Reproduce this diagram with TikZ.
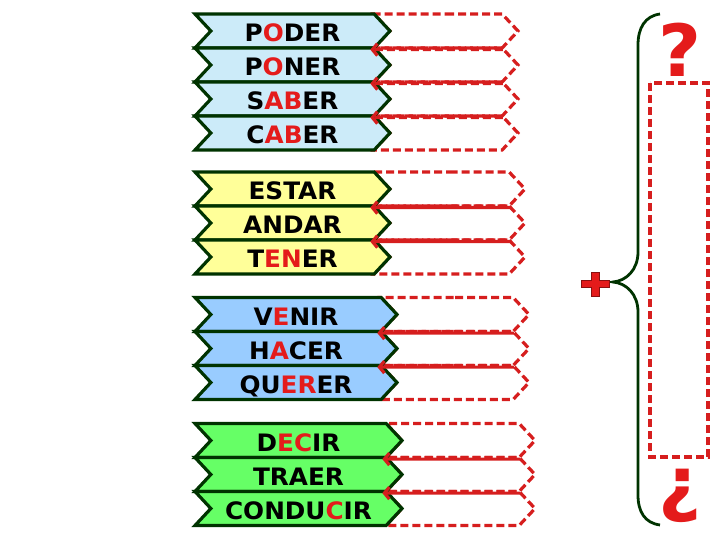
\documentclass[tikz,border=0pt]{standalone}
\usepackage{fontspec}
\setmainfont{DejaVu Sans}[FakeStretch=1.03]
\usetikzlibrary{shapes.symbols,arrows.meta}
\definecolor{edge}{HTML}{003300}
\definecolor{mark}{HTML}{E41B1B}
\definecolor{slotred}{HTML}{D61E1E}
\definecolor{grpA}{HTML}{CCEBF9}
\definecolor{grpB}{HTML}{FFFF99}
\definecolor{grpC}{HTML}{99CCFF}
\definecolor{grpD}{HTML}{66FF66}
\newcommand{\hl}[1]{\textcolor{mark}{#1}}
\tikzset{
  chevron/.style={shape=signal, signal from=west, signal to=east,
    signal pointer angle=94, inner sep=0pt, minimum height=34pt},
  verb/.style={chevron, draw=edge, line width=3.2pt, text height=21pt, text depth=0pt,
    font=\fontsize{24}{24}\bfseries\selectfont},
  slot/.style={chevron, draw=slotred, line width=3.2pt, dash pattern=on 8pt off 4pt},
  back/.style={draw=slotred, line width=3.2pt, -{Straight Barb[length=5pt,width=12pt]}},
}
\begin{document}
\begin{tikzpicture}[x=1pt,y=-1pt]
\useasboundingbox (0,0) rectangle (720,540);

% empty slots
\node[slot,minimum width=144pt] (A1) at (446,31) {};
\node[slot,minimum width=144pt] (A2) at (446,65) {};
\node[slot,minimum width=144pt] (A3) at (446,99) {};
\node[slot,minimum width=144pt] (A4) at (446,133) {};
\node[slot,minimum width=151pt] (B1) at (449.5,189) {};
\node[slot,minimum width=151pt] (B2) at (449.5,223) {};
\node[slot,minimum width=151pt] (B3) at (449.5,257) {};
\node[slot,minimum width=148pt] (C1) at (455,314.5) {};
\node[slot,minimum width=148pt] (C2) at (455,348.5) {};
\node[slot,minimum width=148pt] (C3) at (455,382.5) {};
\node[slot,minimum width=149pt] (D1) at (460.5,440.5) {};
\node[slot,minimum width=149pt] (D2) at (460.5,474.5) {};
\node[slot,minimum width=149pt] (D3) at (460.5,508.5) {};

% verbs
\node[verb,fill=grpA,minimum width=195pt] (P1) at (292.5,31) {P\hl{O}DER};
\node[verb,fill=grpA,minimum width=195pt] (P2) at (292.5,65) {P\hl{O}NER};
\node[verb,fill=grpA,minimum width=195pt] (P3) at (292.5,99) {S\hl{AB}ER};
\node[verb,fill=grpA,minimum width=195pt] (P4) at (292.5,133) {C\hl{AB}ER};
\node[verb,fill=grpB,minimum width=195pt] (E1) at (292.5,189) {ESTAR};
\node[verb,fill=grpB,minimum width=195pt] (E2) at (292.5,223) {ANDAR};
\node[verb,fill=grpB,minimum width=195pt] (E3) at (292.5,257) {T\hl{EN}ER};
\node[verb,fill=grpC,minimum width=202pt] (V1) at (296,314.5) {V\hl{E}NIR};
\node[verb,fill=grpC,minimum width=202pt] (V2) at (296,348.5) {H\hl{A}CER};
\node[verb,fill=grpC,minimum width=202pt] (V3) at (296,382.5) {QU\hl{ER}ER};
\node[verb,fill=grpD,minimum width=207pt] (K1) at (298.5,440.5) {D\hl{EC}IR};
\node[verb,fill=grpD,minimum width=207pt] (K2) at (298.5,474.5) {TRAER};
\node[verb,fill=grpD,minimum width=207pt] (K3) at (298.5,508.5) {CONDU\hl{C}IR};

% arrows between the rows
\draw[back,dash pattern=on 8pt off 4pt] (A1.south east) -- (A1.south west);
\draw[back,dash pattern=on 8pt off 4pt] (A2.south east) -- (A2.south west);
\draw[back,dash pattern=on 8pt off 4pt] (A3.south east) -- (A3.south west);
\draw[back] (B1.south east) -- (B1.south west);
\draw[back] (B2.south east) -- (B2.south west);
\draw[back] (C1.south east) -- (C1.south west);
\draw[back] (C2.south east) -- (C2.south west);
\draw[back] (D1.south east) -- (D1.south west);
\draw[back] (D2.south east) -- (D2.south west);

% brace, plus and answer box
\draw[edge,line width=2.8pt] (660,14) .. controls (645,16) and (638,28) .. (638,45)
  -- (638,252) .. controls (638,270) and (626,281) .. (613,282)
  .. controls (626,283) and (638,294) .. (638,312)
  -- (638,495) .. controls (638,512) and (645,523) .. (660,525);
\draw[fill=mark,draw=mark!60!black,line width=0.8pt]
  (581,280.5) -- (591,280.5) -- (591,272) -- (599,272) -- (599,280.5) -- (609,280.5)
  -- (609,287.5) -- (599,287.5) -- (599,296) -- (591,296) -- (591,287.5) -- (581,287.5) -- cycle;
\node[text=mark,font=\fontsize{72}{72}\bfseries\selectfont] (Q) at (680,50) {?};
\node[text=mark,font=\fontsize{72}{72}\bfseries\selectfont] (R) at (680,496) {¿};
\draw[slotred,line width=3.2pt,dash pattern=on 8pt off 4pt] (650,83) rectangle (708,457);
\end{tikzpicture}
\end{document}
